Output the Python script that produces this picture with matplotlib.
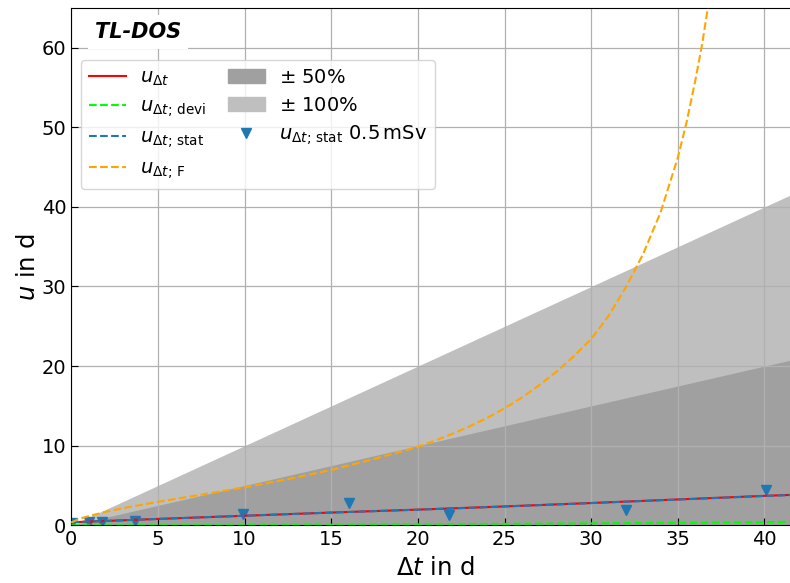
import matplotlib
matplotlib.use("Agg")
import matplotlib.pyplot as plt
from matplotlib.lines import Line2D
from matplotlib.patches import Patch
import numpy as np

# Total uncertainty and its components over the monitoring interval
t_line = [0, 5, 10, 15, 20, 25, 30, 35, 40, 42]
u_total = [0.38, 0.80, 1.20, 1.60, 1.97, 2.37, 2.80, 3.25, 3.70, 3.86]
u_devi = [0.00, 0.02, 0.05, 0.08, 0.12, 0.17, 0.24, 0.31, 0.40, 0.44]
u_stat = [0.38, 0.80, 1.20, 1.60, 1.96, 2.36, 2.79, 3.23, 3.68, 3.84]

# Fading-correction uncertainty
t_fad = [0, 0.5, 1, 2, 3, 4, 5, 7.5, 10, 12.5, 15, 17.5, 20, 21, 22, 23, 24,
         25, 26, 27, 28, 29, 30, 31, 32, 33, 34, 35, 35.5, 36, 36.4, 36.8]
u_fad = [0.35, 0.85, 1.15, 1.70, 2.15, 2.55, 2.95, 3.85, 4.77, 5.80, 6.95, 8.35,
         9.86, 10.65, 11.50, 12.45, 13.50, 14.70, 16.05, 17.60, 19.30, 21.25,
         23.40, 26.30, 29.90, 34.10, 39.30, 46.20, 50.60, 55.80, 60.40, 66.00]

# Statistical uncertainty at 0.5 mSv for individual intervals
t_pts = [0.04, 1.0, 1.8, 3.7, 9.9, 16.0, 21.8, 32.0, 40.1]
u_pts = [0.30, 0.45, 0.45, 0.50, 1.40, 2.85, 1.30, 1.90, 4.45]

# Relative bands
band_t = [0, 42]
band_levels = [0.5, 1.0]
band_labels = [r"$\pm$ 50%", r"$\pm$ 100%"]
band_colors = ["#a0a0a0", "#bfbfbf"]

W, H = 790, 583
fig = plt.figure(figsize=(W / 100, H / 100), dpi=100)
x0, y0 = 71.3, 525.3
px_x, px_y = 17.33, 7.96
ax = fig.add_axes([x0 / W, (H - y0) / H, 42 * px_x / W, 65 * px_y / H])

# bands: draw the wider one first
bt = np.array(band_t, dtype=float)
ax.fill_between(bt, 0, band_levels[1] * bt, color=band_colors[1], lw=0)
ax.fill_between(bt, 0, band_levels[0] * bt, color=band_colors[0], lw=0)

ax.plot(t_pts, u_pts, linestyle="none", marker="v", color="#1f77b4", ms=6.5, zorder=2)
ax.plot(t_line, u_total, color="red", lw=1.5, zorder=3)
ax.plot(t_line, u_devi, color="lime", lw=1.5, ls="--", zorder=3)
ax.plot(t_line, u_stat, color="#1f77b4", lw=1.5, ls="--", zorder=3)
ax.plot(t_fad, u_fad, color="orange", lw=1.5, ls="--", zorder=3)

ax.set_xlim(0, 42)
ax.set_ylim(0, 65)
ax.set_xticks(range(0, 41, 5))
ax.set_yticks(range(0, 61, 10))
ax.tick_params(direction="in", labelsize=14, length=5)
ax.grid(True, color="#b0b0b0", lw=0.9)
ax.spines["right"].set_visible(False)

ax.set_xlabel(r"$\Delta t$ in d", fontsize=17.5, labelpad=5)
ax.set_ylabel(r"$u$ in d", fontsize=17.5, labelpad=1)

ax.text((95 - x0) / (42 * px_x), (y0 - 32) / (65 * px_y), "TL-DOS",
        transform=ax.transAxes, ha="left", va="center", fontsize=15,
        fontweight="bold", fontstyle="italic",
        bbox=dict(facecolor="white", edgecolor="none", pad=5))

handles = [
    Line2D([], [], color="red", lw=1.5),
    Line2D([], [], color="lime", lw=1.5, ls="--"),
    Line2D([], [], color="#1f77b4", lw=1.5, ls="--"),
    Line2D([], [], color="orange", lw=1.5, ls="--"),
    Patch(color=band_colors[0]),
    Patch(color=band_colors[1]),
    Line2D([], [], color="#1f77b4", ls="none", marker="v", ms=6.5),
]
labels = [
    r"$u_{\Delta t}$",
    r"$u_{\Delta t;\,\mathrm{devi}}$",
    r"$u_{\Delta t;\,\mathrm{stat}}$",
    r"$u_{\Delta t;\,\mathrm{F}}$",
    band_labels[0],
    band_labels[1],
    r"$u_{\Delta t;\,\mathrm{stat}}$ $0.5\,\mathrm{mSv}$",
]
ax.legend(handles, labels, ncol=2, fontsize=14, loc="upper left",
          bbox_to_anchor=(81 / W, 1 - 60 / H), bbox_transform=fig.transFigure,
          borderaxespad=0, columnspacing=1.1, labelspacing=0.45,
          handlelength=1.9, handletextpad=0.75)

fig.savefig("out.png", dpi=100)
